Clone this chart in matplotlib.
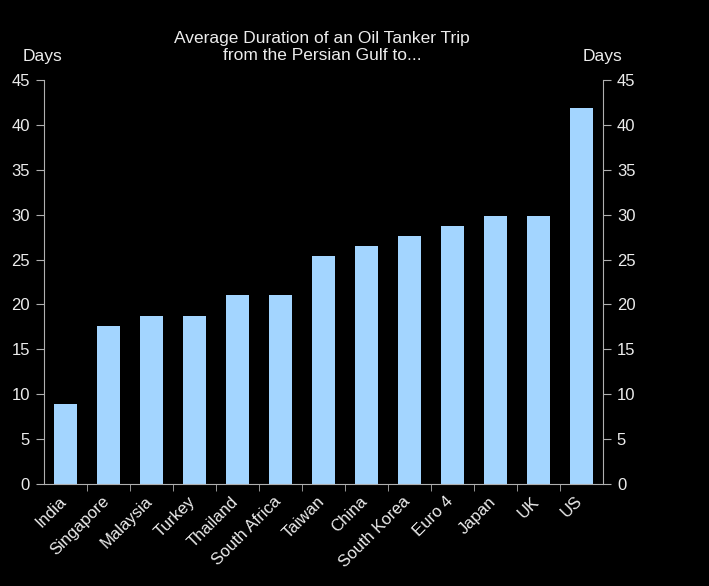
import matplotlib.pyplot as plt
import matplotlib.transforms as mtransforms
import numpy as np

# data
countries = ["India", "Singapore", "Malaysia", "Turkey", "Thailand", "South Africa",
             "Taiwan", "China", "South Korea", "Euro 4", "Japan", "UK", "US"]
days = [8.9, 17.6, 18.7, 18.7, 21.0, 21.0, 25.4, 26.5, 27.6, 28.7, 29.8, 29.8, 41.9]
yticks = [0, 5, 10, 15, 20, 25, 30, 35, 40, 45]

plt.rcParams['font.family'] = ['Liberation Sans', 'DejaVu Sans']
txt = "#ececec"
spine = "#b0b0b0"

fig = plt.figure(figsize=(7.09, 5.86), dpi=100, facecolor="black")
ax = fig.add_axes([44 / 709, 1 - 484 / 586, 559 / 709, 404 / 586], facecolor="black")

x = np.arange(len(countries))
ax.bar(x, days, width=0.55, color="#a3d5ff")

ax.set_xlim(-0.5, len(countries) - 0.5)
ax.set_ylim(0, 45)
ax.set_yticks(yticks)
ax.tick_params(axis="y", colors=txt, labelsize=12, length=6, color=spine, pad=4,
               left=True, right=True, labelleft=True, labelright=True)

# category labels at bar centres, tick marks between categories
ax.set_xticks(x)
ax.set_xticklabels(countries, rotation=45, ha="right", rotation_mode="anchor",
                   color=txt, fontsize=12)
ax.tick_params(axis="x", length=0, pad=7)
ax.set_xticks(x[:-1] + 0.5, minor=True)
ax.tick_params(axis="x", which="minor", length=5, color=spine)

# nudge labels a little to the left
shift = mtransforms.ScaledTranslation(-5 / 72, 0, fig.dpi_scale_trans)
for lab in ax.get_xticklabels():
    lab.set_transform(lab.get_transform() + shift)

for s in ["left", "right", "bottom"]:
    ax.spines[s].set_color(spine)
ax.spines["top"].set_visible(False)

fig.text(43 / 709, 1 - 57 / 586, "Days", color=txt, fontsize=12.5, ha="center", va="center")
fig.text(603 / 709, 1 - 57 / 586, "Days", color=txt, fontsize=12.5, ha="center", va="center")
fig.text(322 / 709, 1 - 47 / 586, "Average Duration of an Oil Tanker Trip\nfrom the Persian Gulf to...",
         color=txt, fontsize=12.5, ha="center", va="center", linespacing=1.12)

fig.savefig("out.png", dpi=100, facecolor="black")
